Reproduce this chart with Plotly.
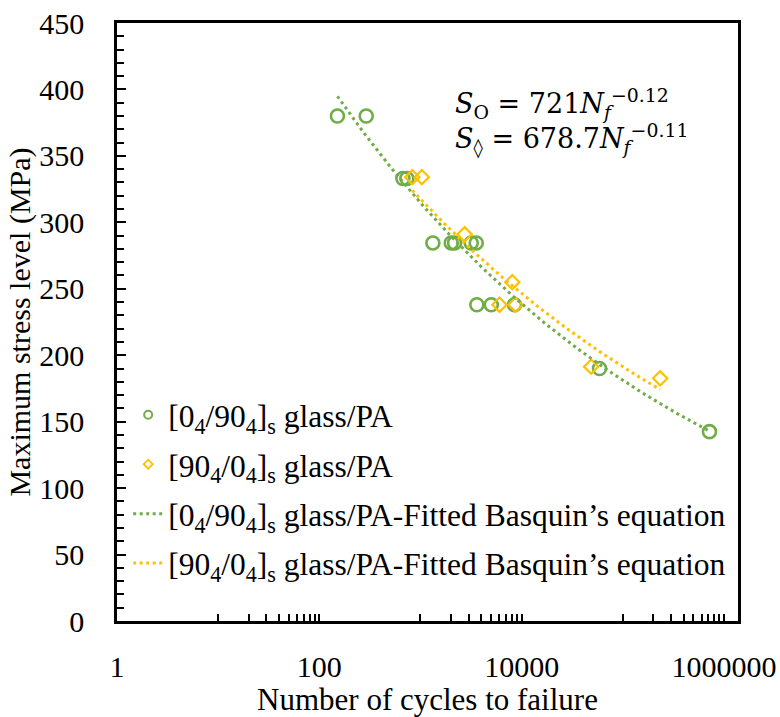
import numpy as np
import plotly.graph_objects as go

# Fatigue test results: cycles to failure and maximum stress (MPa)
n_0_90 = [151, 291, 670, 734, 1326, 2015, 2173, 3177, 3558, 3610, 5010, 8510, 58900, 719000]
s_0_90 = [380, 380, 333, 333, 284.5, 284.5, 284.5, 284.5, 284.5, 238, 238, 238, 190, 142.5]

n_90_0 = [830, 1032, 2730, 8080, 6040, 8700, 48700, 234000]
s_90_0 = [334, 334, 291, 255, 238, 238, 191.4, 182.6]

# Basquin fits  S = A * Nf^b
fit_0_90 = (721.0, -0.12)
fit_90_0 = (678.7, -0.11)

GREEN = "#70AD47"
YELLOW = "#FFC000"
FONT = "Times New Roman, Liberation Serif, serif"

name_c = "[0<sub>4</sub>/90<sub>4</sub>]<sub>s</sub> glass/PA"
name_d = "[90<sub>4</sub>/0<sub>4</sub>]<sub>s</sub> glass/PA"
fit_suffix = "-Fitted Basquin\u2019s equation"


def basquin_curve(n_values, coeffs):
    a, b = coeffs
    n = np.geomspace(min(n_values), max(n_values), 200)
    return n, a * n ** b


fig = go.Figure()

# measured points
fig.add_trace(go.Scatter(
    x=n_0_90, y=s_0_90, mode="markers", showlegend=False,
    marker=dict(symbol="circle-open", size=13, color=GREEN, line=dict(width=2.6, color=GREEN)),
))
fig.add_trace(go.Scatter(
    x=n_90_0, y=s_90_0, mode="markers", showlegend=False,
    marker=dict(symbol="diamond-open", size=11, color=YELLOW, line=dict(width=2.2, color=YELLOW)),
))

# legend entries for the point series (smaller symbols)
fig.add_trace(go.Scatter(
    x=[None], y=[None], mode="markers", name=name_c, legendrank=1, legendgroup="a",
    marker=dict(symbol="circle-open", size=8, color=GREEN, line=dict(width=2, color=GREEN)),
))
fig.add_trace(go.Scatter(
    x=[None], y=[None], mode="markers", name=name_d, legendrank=2, legendgroup="b",
    marker=dict(symbol="diamond-open", size=7, color=YELLOW, line=dict(width=1.8, color=YELLOW)),
))

# fitted curves
fx, fy = basquin_curve(n_0_90, fit_0_90)
fig.add_trace(go.Scatter(
    x=fx, y=fy, mode="lines", name=name_c + fit_suffix, legendrank=3, legendgroup="c",
    line=dict(color=GREEN, width=3, dash="3px,3.5px"),
))
fx, fy = basquin_curve(n_90_0, fit_90_0)
fig.add_trace(go.Scatter(
    x=fx, y=fy, mode="lines", name=name_d + fit_suffix, legendrank=4, legendgroup="d",
    line=dict(color=YELLOW, width=3, dash="3px,3.5px"),
))

# x axis: labels every two decades, small ticks at 10..90 within each
x_major = [1, 100, 10000, 1000000]
x_minor = [m * 10 * base for base in (1, 100, 10000) for m in range(1, 10)] + [100, 10000, 1000000]

fig.update_layout(
    width=780, height=717,
    margin=dict(l=117, r=42, t=23, b=96),
    paper_bgcolor="white", plot_bgcolor="white",
    font=dict(family=FONT, color="black", size=30),
    legend=dict(
        x=0.018, y=0.39, xanchor="left", yanchor="top",
        bgcolor="rgba(0,0,0,0)", font=dict(family=FONT, size=31.5, color="black"),
        tracegroupgap=5.5, itemwidth=30,
    ),
    showlegend=True,
)

fig.update_xaxes(
    type="log", range=[0, 6.139], automargin=False,
    tickmode="array", tickvals=x_major, ticktext=[str(v) for v in x_major],
    ticks="inside", ticklen=7, tickwidth=2, tickcolor="black",
    minor=dict(tickmode="array", tickvals=x_minor, ticks="inside", ticklen=7, tickwidth=2, tickcolor="black"),
    showline=True, linewidth=2.5, linecolor="black", mirror=True,
    showgrid=False, zeroline=False,
    tickfont=dict(family=FONT, size=30), ticklabelstandoff=17,
    title=dict(text="Number of cycles to failure", font=dict(family=FONT, size=31), standoff=20),
)
fig.update_yaxes(
    range=[0, 450], tickmode="linear", tick0=0, dtick=50, automargin=False,
    ticks="inside", ticklen=9, tickwidth=2.2, tickcolor="black",
    minor=dict(dtick=10, ticks="inside", ticklen=7, tickwidth=2, tickcolor="black"),
    showline=True, linewidth=2.5, linecolor="black", mirror=True,
    showgrid=False, zeroline=False,
    tickfont=dict(family=FONT, size=30), ticklabelstandoff=24,
    title=dict(text="Maximum stress level (MPa)", font=dict(family=FONT, size=30), standoff=0),
)

# fitted equations, one per line
eq_font = dict(family="DejaVu Serif", size=27, color="black")
fig.add_annotation(
    xref="paper", yref="paper", x=0.541, y=0.836, xanchor="left", yanchor="middle",
    align="left", showarrow=False, font=eq_font,
    text=(
        "<i>S</i><sub>O</sub> = 721<i>N</i><sub><i>f</i></sub><sup>\u22120.12</sup><br>"
        "<i>S</i><sub>\u25CA</sub> = 678.7<i>N</i><sub><i>f</i></sub><sup>\u22120.11</sup>"
    ),
)

fig.write_html("out.html")
